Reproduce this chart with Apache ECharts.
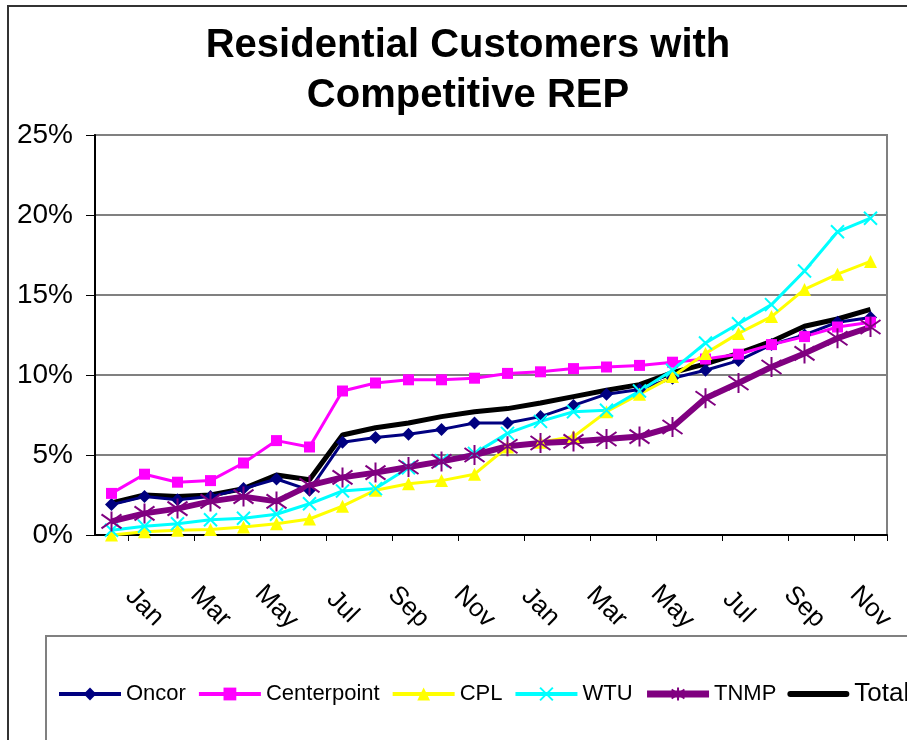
<!DOCTYPE html>
<html>
<head>
<meta charset="utf-8">
<script src="https://cdn.jsdelivr.net/npm/echarts@6/dist/echarts.min.js"></script>
<style>
    html, body { margin: 0; padding: 0; background: #fff; }
    #chart { width: 907px; height: 740px; }
</style>
</head>
<body>
<div id="chart"></div>
<script>
    // Dec .. Nov, two years
    var months = ['Dec', 'Jan', 'Feb', 'Mar', 'Apr', 'May', 'Jun', 'Jul', 'Aug', 'Sep', 'Oct', 'Nov',
                  'Dec', 'Jan', 'Feb', 'Mar', 'Apr', 'May', 'Jun', 'Jul', 'Aug', 'Sep', 'Oct', 'Nov']

    var oncor = [1.9, 2.4, 2.2, 2.4, 2.9, 3.5, 2.8, 5.8, 6.1, 6.3, 6.6, 7.0,
                 7.0, 7.4, 8.1, 8.8, 9.1, 9.8, 10.3, 10.9, 11.9, 12.5, 13.3, 13.6]
    var centerpoint = [2.6, 3.8, 3.3, 3.4, 4.5, 5.9, 5.5, 9.0, 9.5, 9.7, 9.7, 9.8,
                       10.1, 10.2, 10.4, 10.5, 10.6, 10.8, 11.0, 11.3, 11.9, 12.4, 13.0, 13.3]
    var cpl = [0.0, 0.2, 0.3, 0.35, 0.5, 0.7, 1.0, 1.8, 2.8, 3.2, 3.4, 3.8,
               5.5, 5.8, 6.15, 7.7, 8.8, 9.9, 11.35, 12.6, 13.65, 15.35, 16.3, 17.1]
    var wtu = [0.3, 0.55, 0.7, 0.95, 1.05, 1.3, 1.95, 2.75, 2.9, 4.2, 4.65, 5.1,
               6.35, 7.1, 7.7, 7.8, 9.0, 10.3, 12.0, 13.2, 14.4, 16.5, 18.95, 19.8]
    var tnmp = [0.85, 1.35, 1.65, 2.1, 2.4, 2.1, 3.1, 3.6, 3.9, 4.25, 4.6, 5.0,
                5.55, 5.75, 5.85, 6.0, 6.15, 6.75, 8.55, 9.5, 10.5, 11.35, 12.3, 13.0]
    var total = [2.0, 2.5, 2.4, 2.5, 2.9, 3.75, 3.45, 6.25, 6.7, 7.0, 7.4, 7.7,
                 7.9, 8.25, 8.65, 9.05, 9.4, 10.15, 10.7, 11.35, 12.1, 13.05, 13.5, 14.1]

    var yTicks = [0, 5, 10, 15, 20, 25]

    var xSym = 'path://M0,0L10,10M10,0L0,10'
    var starSym = 'path://M5,0L5,10M0,1.5L10,8.5M10,1.5L0,8.5'

    var myChart = echarts.init(document.getElementById('chart'))

    function lineSeries(name, data, color, width, symbol, size, stroked) {
        return {
            name: name,
            type: 'line',
            data: data,
            symbol: symbol,
            symbolSize: size,
            showSymbol: symbol !== 'none',
            lineStyle: { color: color, width: width },
            itemStyle: stroked
                ? { color: 'rgba(0,0,0,0)', borderColor: color, borderWidth: 2 }
                : { color: color, borderWidth: 0 },
            emphasis: { disabled: true },
            animation: false
        }
    }

    let option = {
        backgroundColor: '#fff',
        title: {
            text: 'Residential Customers with\nCompetitive REP',
            left: 463,
            textAlign: 'center',
            top: 16,
            textStyle: {
                fontFamily: 'Liberation Sans',
                fontWeight: 'bold',
                fontSize: 40,
                lineHeight: 50,
                color: '#000'
            }
        },
        grid: {
            left: 95,
            right: 20,
            top: 135,
            bottom: 205,
            show: true,
            borderColor: '#808080',
            borderWidth: 2
        },
        legend: {
            left: 52,
            top: 676,
            width: 1200,
            itemWidth: 62,
            itemHeight: 16,
            itemGap: 11,
            textStyle: { fontFamily: 'Liberation Sans', fontSize: 22, color: '#000' },
            data: [
                { name: 'Oncor', lineStyle: { width: 4 } },
                { name: 'Centerpoint', lineStyle: { width: 4 } },
                { name: 'CPL', lineStyle: { width: 4 } },
                { name: 'WTU', lineStyle: { width: 4 } },
                { name: 'TNMP', lineStyle: { width: 7 } },
                { name: 'Total', icon: 'path://M3,0L59,0A3,3 0 0 1 59,6L3,6A3,3 0 0 1 3,0Z',
                  itemStyle: { color: '#000' }, textStyle: { fontSize: 26 } }
            ]
        },
        xAxis: {
            type: 'category',
            data: months,
            boundaryGap: true,
            axisLine: { show: true, lineStyle: { color: '#000', width: 2 } },
            axisTick: { show: true, length: 6, lineStyle: { color: '#000' } },
            axisLabel: {
                interval: function (idx) { return idx % 2 === 1 },
                rotate: -45,
                align: 'center',
                verticalAlign: 'middle',
                margin: 72,
                fontFamily: 'Liberation Sans',
                fontSize: 26,
                color: '#000'
            },
            splitLine: { show: false }
        },
        yAxis: {
            type: 'value',
            min: yTicks[0],
            max: yTicks[yTicks.length - 1],
            interval: 5,
            axisLine: { show: true, lineStyle: { color: '#000', width: 2 } },
            axisTick: { show: true, inside: false, length: 9, lineStyle: { color: '#000' } },
            axisLabel: {
                formatter: '{value}%',
                margin: 22,
                fontFamily: 'Liberation Sans',
                fontSize: 28,
                color: '#000'
            },
            splitLine: { show: true, lineStyle: { color: '#808080', width: 2 } }
        },
        graphic: [
            {
                type: 'rect',
                shape: { x: 8, y: 6, width: 1000, height: 1000 },
                style: { fill: 'none', stroke: '#333', lineWidth: 2 },
                silent: true
            },
            {
                type: 'rect',
                shape: { x: 46, y: 636, width: 1000, height: 300 },
                style: { fill: 'none', stroke: '#808080', lineWidth: 2 },
                silent: true
            }
        ],
        series: [
            lineSeries('Total', total, '#000000', 5, 'none', 0, false),
            lineSeries('Oncor', oncor, '#000080', 3, 'diamond', 13, false),
            lineSeries('Centerpoint', centerpoint, '#ff00ff', 3, 'rect', 11, false),
            lineSeries('CPL', cpl, '#ffff00', 3, 'triangle', 13, false),
            lineSeries('WTU', wtu, '#00ffff', 3, xSym, 13, true),
            lineSeries('TNMP', tnmp, '#800080', 6, starSym, 20, true)
        ]
    };
    myChart.setOption(option)
</script>
</body>
</html>
